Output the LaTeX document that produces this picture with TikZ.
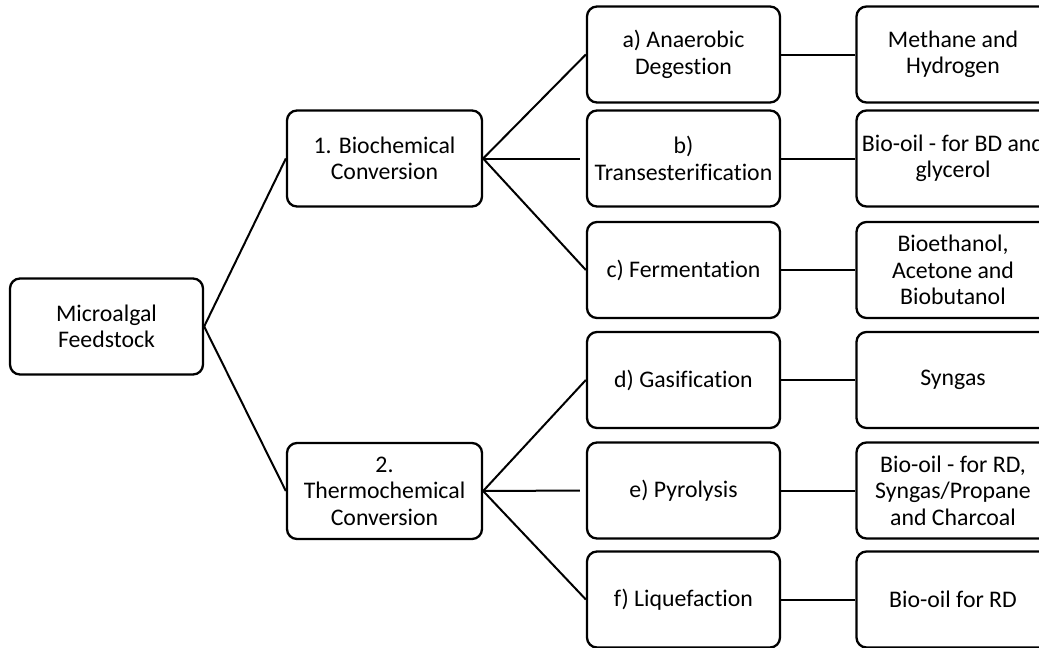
\documentclass[tikz,border=0pt]{standalone}
\usepackage{fontspec}
\setmainfont{Carlito}[RawFeature={-liga}]
\begin{document}
\begin{tikzpicture}[x=1pt,y=-1pt,
  box/.style={draw, line width=2.3pt, rounded corners=10pt, minimum width=193pt, minimum height=96pt, align=center, inner sep=0pt, font=\fontsize{23.8}{26.5}\selectfont},
  link/.style={line width=2pt},
  gaplink/.style={line width=2pt, shorten >=6pt}]
\useasboundingbox (0,0) rectangle (1039,648);
\clip (0,0) rectangle (1039,648);
\node[box] (feed) at (106.5,326.5) {Microalgal\\Feedstock};
\node[box, minimum width=195pt] (bio) at (384.5,158.5) {1. Biochemical\\Conversion};
\node[box, minimum width=195pt] (thermo) at (384.5,491) {2.\\Thermochemical\\Conversion};
\node[box] (pa) at (683.5,54.5) {a) Anaerobic\\Degestion};
\node[box] (pb) at (683.5,158.5) {b)\\Transesterification};
\node[box] (pc) at (683.5,270) {c) Fermentation};
\node[box] (pd) at (683.5,380) {d) Gasification};
\node[box] (pe) at (683.5,490.5) {e) Pyrolysis};
\node[box] (pf) at (683.5,599.5) {f) Liquefaction};
\node[box] (ra) at (953,54.5) {Methane and\\Hydrogen};
\node[box] (rb) at (953,158.5) {Bio-oil - for BD and\\glycerol};
\node[box] (rc) at (953,270) {Bioethanol,\\Acetone and\\Biobutanol};
\node[box] (rd) at (953,380) {Syngas};
\node[box] (re) at (953,490.5) {Bio-oil - for RD,\\Syngas/Propane\\and Charcoal};
\node[box] (rf) at (953,599.5) {Bio-oil for RD};
\draw[link] (feed.east) -- (bio.west);
\draw[link] (feed.east) -- (thermo.west);
\draw[link] (bio.east) -- (pa.west);
\draw[gaplink] (bio.east) -- (pb.west);
\draw[link] (bio.east) -- (pc.west);
\draw[link] (thermo.east) -- (pd.west);
\draw[gaplink] (thermo.east) -- (pe.west);
\draw[link] (thermo.east) -- (pf.west);
\draw[link] (pa.east) -- (ra.west);
\draw[link] (pb.east) -- (rb.west);
\draw[link] (pc.east) -- (rc.west);
\draw[link] (pd.east) -- (rd.west);
\draw[link] (pe.east) -- (re.west);
\draw[link] (pf.east) -- (rf.west);
\end{tikzpicture}
\end{document}
